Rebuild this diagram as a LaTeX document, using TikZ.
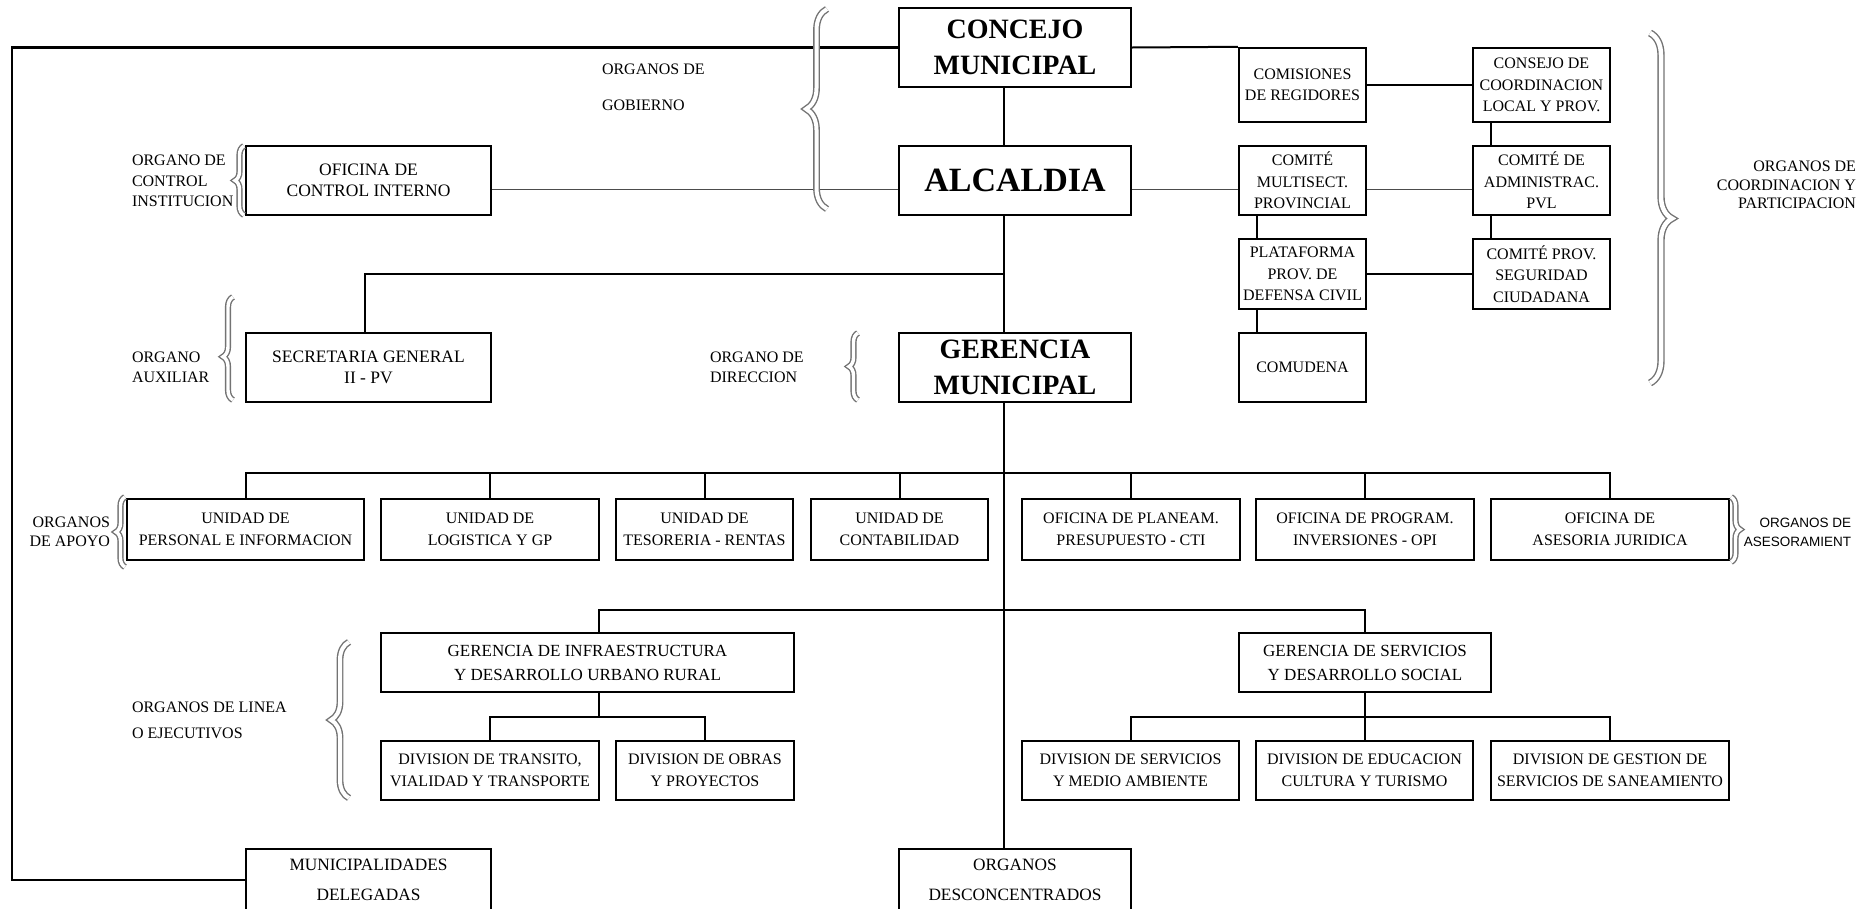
\documentclass[tikz,border=0pt]{standalone}
\usepackage{fontspec}
\setmainfont{Liberation Serif}
\newfontfamily\sansorg{Liberation Sans}
\usetikzlibrary{decorations.pathreplacing}

\begin{document}
\begin{tikzpicture}[x=1pt, y=-1pt, line width=2pt,
  box/.style={draw, line width=2.4pt, fill=white, align=center, inner sep=0pt, font=\fontsize{16}{21.5}\selectfont},
  wbox/.style={box, font=\fontsize{17.5}{21.5}\selectfont},
  gbox/.style={box, font=\fontsize{17}{24}\selectfont},
  dbox/.style={box, font=\fontsize{17.3}{30}\selectfont},
  bigbox/.style={box, font=\bfseries\fontsize{28}{36}\selectfont},
  lbl/.style={inner sep=0pt, font=\fontsize{16}{20}\selectfont},
  thinline/.style={line width=1pt, black!70},
  brc/.style={decorate, decoration={brace, amplitude=#1}, draw=black!55, line width=1.4pt, double=white, double distance=3.4pt}]
\useasboundingbox (0,0) rectangle (1868,908);
\node[bigbox, minimum width=232pt, minimum height=79pt] (gob0) at (1015,47.5) {CONCEJO\\MUNICIPAL};
\node[bigbox, minimum width=232pt, minimum height=69pt, font=\bfseries\fontsize{34}{40}\selectfont] (gob1) at (1015,180.5) {ALCALDIA};
\node[bigbox, minimum width=232pt, minimum height=69pt] (gob2) at (1015,367.5) {GERENCIA\\MUNICIPAL};
\node[wbox, minimum width=245pt, minimum height=69pt] (ctl) at (368.5,180.5) {OFICINA DE\\CONTROL INTERNO};
\node[wbox, minimum width=245pt, minimum height=69pt] (aux) at (368.5,367.5) {SECRETARIA GENERAL\\II - PV};
\node[box, minimum width=127pt, minimum height=74pt] (coo1) at (1302.5,85) {COMISIONES\\DE REGIDORES};
\node[box, minimum width=137pt, minimum height=74pt] (coo2) at (1541.5,85) {CONSEJO DE\\COORDINACION\\LOCAL Y PROV.};
\node[box, minimum width=127pt, minimum height=69pt] (coo3) at (1302.5,180.5) {COMITÉ\\MULTISECT.\\PROVINCIAL};
\node[box, minimum width=137pt, minimum height=69pt] (coo4) at (1541.5,180.5) {COMITÉ DE\\ADMINISTRAC.\\PVL};
\node[box, minimum width=127pt, minimum height=70pt] (coo5) at (1302.5,274) {PLATAFORMA\\PROV. DE\\DEFENSA CIVIL};
\node[box, minimum width=137pt, minimum height=70pt] (coo6) at (1541.5,274) {COMITÉ PROV.\\SEGURIDAD\\CIUDADANA};
\node[box, minimum width=127pt, minimum height=69pt] (coo7) at (1302.5,367.5) {COMUDENA};
\node[box, minimum width=237pt, minimum height=61pt] (apo1) at (245.5,529.5) {UNIDAD DE\\PERSONAL E INFORMACION};
\node[box, minimum width=218pt, minimum height=61pt] (apo2) at (490,529.5) {UNIDAD DE\\LOGISTICA Y GP};
\node[box, minimum width=177pt, minimum height=61pt] (apo3) at (704.5,529.5) {UNIDAD DE\\TESORERIA - RENTAS};
\node[box, minimum width=177pt, minimum height=61pt] (apo4) at (899.5,529.5) {UNIDAD DE\\CONTABILIDAD};
\node[box, minimum width=218pt, minimum height=61pt] (ase1) at (1131,529.5) {OFICINA DE PLANEAM.\\PRESUPUESTO - CTI};
\node[box, minimum width=218pt, minimum height=61pt] (ase2) at (1365,529.5) {OFICINA DE PROGRAM.\\INVERSIONES - OPI};
\node[box, minimum width=238pt, minimum height=61pt] (ase3) at (1610,529.5) {OFICINA DE\\ASESORIA JURIDICA};
\node[gbox, minimum width=413pt, minimum height=59pt] (lin0) at (587.5,662.5) {GERENCIA DE INFRAESTRUCTURA\\Y DESARROLLO URBANO RURAL};
\node[gbox, minimum width=252pt, minimum height=59pt] (lin5) at (1365,662.5) {GERENCIA DE SERVICIOS\\Y DESARROLLO SOCIAL};
\node[box, minimum width=218pt, minimum height=59pt] (lin1) at (490,770.5) {DIVISION DE TRANSITO,\\VIALIDAD Y TRANSPORTE};
\node[box, minimum width=178pt, minimum height=59pt] (lin2) at (705,770.5) {DIVISION DE OBRAS\\Y PROYECTOS};
\node[box, minimum width=217pt, minimum height=59pt] (lin6) at (1130.5,770.5) {DIVISION DE SERVICIOS\\Y MEDIO AMBIENTE};
\node[box, minimum width=217pt, minimum height=59pt] (lin7) at (1364.5,770.5) {DIVISION DE EDUCACION\\CULTURA Y TURISMO};
\node[box, minimum width=238pt, minimum height=59pt] (lin8) at (1610,770.5) {DIVISION DE GESTION DE\\SERVICIOS DE SANEAMIENTO};
\node[dbox, minimum width=245pt, minimum height=62pt] (del) at (368.5,880) {MUNICIPALIDADES\\DELEGADAS};
\node[dbox, minimum width=232pt, minimum height=62pt] (des) at (1015,880) {ORGANOS\\DESCONCENTRADOS};
\coordinate (ax) at (1004,274);
\coordinate (sx) at (365,0);
\coordinate (th) at (0,189);
\coordinate (cv1) at (1257,0);
\coordinate (cv2) at (1491,0);
\coordinate (lft) at (12,880);
\coordinate (bus1) at (1004,473);
\coordinate (bus2) at (1004,610);
\coordinate (bus3) at (599,717);
\coordinate (bus4) at (1364,717);
\draw[line width=2.4pt] (gob0.west) -| (lft) -- (del.west);
\draw (gob0.south -| ax) -- (gob1.north -| ax);
\draw (gob1.south -| ax) -- (gob2.north -| ax);
\draw (gob2.south -| ax) -- (des.north -| ax);
\draw (aux.north -| sx) |- (ax);
\draw (gob0.east) -- (coo1.north west);
\draw (coo1.east) -- (coo2.west);
\draw (coo2.south -| cv2) -- (coo4.north -| cv2);
\draw (coo4.south -| cv2) -- (coo6.north -| cv2);
\draw (coo3.south -| cv1) -- (coo5.north -| cv1);
\draw (coo5.south -| cv1) -- (coo7.north -| cv1);
\draw (coo5.east) -- (coo6.west);
\draw[thinline] (ctl.east |- th) -- (gob1.west |- th);
\draw[thinline] (gob1.east |- th) -- (coo3.west |- th);
\draw[thinline] (coo3.east |- th) -- (coo4.west |- th);
\draw (apo1.north) |- (bus1) -| (ase3.north);
\draw (apo2.north) -- (apo2.north |- bus1);
\draw (apo3.north) -- (apo3.north |- bus1);
\draw (apo4.north) -- (apo4.north |- bus1);
\draw (ase1.north) -- (ase1.north |- bus1);
\draw (ase2.north) -- (ase2.north |- bus1);
\draw (lin0.north -| bus3) |- (bus2) -| (lin5.north);
\draw (lin0.south -| bus3) -- (bus3);
\draw (lin1.north) |- (bus3) -| (lin2.north);
\draw (lin5.south) -- (lin5.south |- bus4);
\draw (lin6.north) |- (bus4) -| (lin8.north);
\draw (lin7.north) -- (lin7.north |- bus4);
\node[lbl, anchor=west, align=left, font=\fontsize{16}{36}\selectfont] (lb0) at (601,87) {ORGANOS DE\\GOBIERNO};
\node[lbl, anchor=west, align=left, font=\fontsize{16}{20.5}\selectfont] (lb1) at (131,181) {ORGANO DE\\CONTROL\\INSTITUCION};
\node[lbl, anchor=west, align=left] (lb2) at (131,367) {ORGANO\\AUXILIAR};
\node[lbl, anchor=west, align=left] (lb3) at (709,367) {ORGANO DE\\DIRECCION};
\node[lbl, anchor=east, align=right, font=\fontsize{16}{19}\selectfont] (lb4) at (111,532) {ORGANOS\\DE APOYO};
\node[lbl, anchor=east, align=right, font=\sansorg\fontsize{13.5}{19}\selectfont] (lb5) at (1852,532) {ORGANOS DE\\ASESORAMIENT};
\node[lbl, anchor=east, align=right, font=\fontsize{16}{18.5}\selectfont] (lb6) at (1857,185) {ORGANOS DE\\COORDINACION Y\\PARTICIPACION};
\node[lbl, anchor=west, align=left, font=\fontsize{16}{26}\selectfont] (lb7) at (131,720) {ORGANOS DE LINEA\\O EJECUTIVOS};
\draw[brc=21pt, double distance=4pt] (827,209) -- (827,9);
\draw[brc=9pt] (244,215) -- (244,146);
\draw[brc=10pt, decoration={aspect=0.42}] (233,400) -- (233,297);
\draw[brc=9pt] (858,400) -- (858,333);
\draw[brc=9pt] (125,567) -- (125,497);
\draw[brc=18pt, double distance=4pt] (349,798) -- (349,642);
\draw[brc=22pt, double distance=4.5pt, decoration={aspect=0.53}] (1650,33) -- (1650,383);
\draw[brc=9pt] (1731,497) -- (1731,562);
\end{tikzpicture}
\end{document}
